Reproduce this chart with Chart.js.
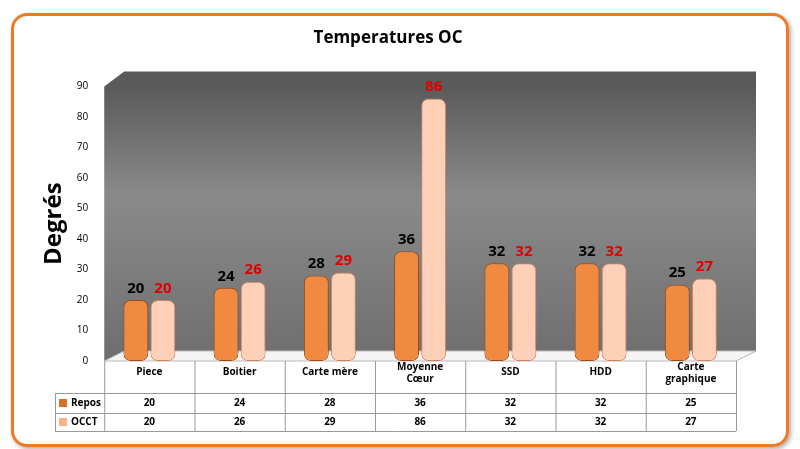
<!DOCTYPE html>
<html><head><meta charset="utf-8">
<script src="https://cdn.jsdelivr.net/npm/chart.js@4"></script>
<style>
html,body{margin:0;padding:0;background:#fff;width:800px;height:449px;overflow:hidden}
#frame{position:absolute;left:11px;top:13px;width:772px;height:428px;border:3px solid #f07820;border-radius:16px;box-shadow:2px 2px 4px #aaa}
#c{position:absolute;left:0;top:0}
</style></head><body>
<div id="frame"></div>
<canvas id="c" width="800" height="449"></canvas>
<script>
const categories=[["Piece"],["Boitier"],["Carte mère"],["Moyenne","Cœur"],["SSD"],["HDD"],["Carte","graphique"]];
const repos=[20,24,28,36,32,32,25];
const occt=[20,26,29,86,32,32,27];
const yTicks=[0,10,20,30,40,50,60,70,80,90];
const F="'Open Sans', 'DejaVu Sans', sans-serif";

const bgPlugin={id:'bg',beforeDatasetsDraw(ch){
 const {ctx,chartArea:a}=ch;ctx.save();
 const g=ctx.createLinearGradient(0,a.top,0,a.bottom);
 g.addColorStop(0,'#5a5a5a');g.addColorStop(0.4,'#8a8a8a');g.addColorStop(1,'#6e6e6e');
 ctx.fillStyle=g;ctx.beginPath();ctx.moveTo(a.left,a.top);ctx.lineTo(a.left+20,a.top-15);ctx.lineTo(a.right+20,a.top-15);ctx.lineTo(a.right+20,a.bottom-10);ctx.lineTo(a.right,a.bottom);ctx.lineTo(a.left,a.bottom);ctx.closePath();ctx.fill();
 ctx.fillStyle='#f4f4f4';ctx.strokeStyle='#bbb';ctx.beginPath();ctx.moveTo(a.left,a.bottom);ctx.lineTo(a.right,a.bottom);ctx.lineTo(a.right+20,a.bottom-10);ctx.lineTo(a.left+20,a.bottom-10);ctx.closePath();ctx.fill();ctx.stroke();
 ctx.restore();
},afterDraw(ch){
 const {ctx,chartArea:a}=ch;ctx.save();
 const w=(a.right-a.left)/categories.length;
 ctx.textAlign='center';ctx.textBaseline='bottom';ctx.font='bold 15px '+F;
 ch.data.datasets.forEach((ds,i)=>{const m=ch.getDatasetMeta(i);m.data.forEach((b,j)=>{ctx.fillStyle=i?'#e00000':'#000';ctx.fillText(ds.data[j],b.x,b.y-4);});});
 const top=a.bottom, h1=top+32, r1=h1+20, r2=r1+18;
 ctx.strokeStyle='#999';ctx.lineWidth=1;ctx.beginPath();
 for(let i=0;i<=categories.length;i++){const xx=a.left+i*w;ctx.moveTo(xx+.5,top);ctx.lineTo(xx+.5,r2);}
 ctx.moveTo(a.left,h1+.5);ctx.lineTo(a.right,h1+.5);
 ctx.moveTo(55,r1+.5);ctx.lineTo(a.right,r1+.5);
 ctx.moveTo(55,r2+.5);ctx.lineTo(a.right,r2+.5);
 ctx.moveTo(55.5,h1);ctx.lineTo(55.5,r2);ctx.moveTo(a.left,h1+.5);ctx.lineTo(55,h1+.5);
 ctx.stroke();
 ctx.fillStyle='#000';ctx.font='bold 10px '+F;ctx.textBaseline='middle';
 categories.forEach((c,i)=>{const cx=a.left+(i+.5)*w;const n=c.length;c.forEach((t,k)=>ctx.fillText(t,cx,top+(n==1?11:6)+k*12));
  ctx.fillText(repos[i],cx,(h1+r1)/2);ctx.fillText(occt[i],cx,(r1+r2)/2);});
 ctx.textAlign='left';
 [['Repos','#d86f28',(h1+r1)/2],['OCCT','#f8b08c',(r1+r2)/2]].forEach(([t,c,y])=>{ctx.fillStyle=c;ctx.fillRect(59,y-4,8,8);ctx.fillStyle='#000';ctx.fillText(t,71,y);});
 ctx.restore();
}};

function cyl(c1,c2,c3){return (cx)=>{const el=cx.element;const ch=cx.chart;if(!el||!el.width)return c2;
 const x0=el.x-el.width/2,x1=el.x+el.width/2;const g=ch.ctx.createLinearGradient(x0,0,x1,0);
 g.addColorStop(0,c1);g.addColorStop(0.45,c2);g.addColorStop(1,c3);return g;};}
new Chart(document.getElementById('c'),{type:'bar',
 data:{labels:categories.map(c=>c.join(' ')),datasets:[
  {label:'Repos',data:repos,backgroundColor:cyl('#b85a18','#f08a40','#a04a10'),borderColor:'#a04a10',borderWidth:1,borderRadius:7,borderSkipped:false},
  {label:'OCCT',data:occt,backgroundColor:cyl('#f0a078','#ffd0b8','#e09070'),borderColor:'#d08060',borderWidth:1,borderRadius:7,borderSkipped:false}]},
 options:{responsive:false,animation:false,
  layout:{padding:{left:40,right:64,top:10,bottom:88}},
  datasets:{bar:{barPercentage:0.92,categoryPercentage:0.6}},
  plugins:{legend:{display:false},tooltip:{enabled:false},
   title:{display:true,text:'Temperatures OC',font:{family:F,size:17,weight:'bold'},color:'#000',padding:{top:18,bottom:38}}},
  scales:{
   x:{display:false,grid:{display:false}},
   y:{min:0,max:90,afterBuildTicks(ax){ax.ticks=yTicks.map(v=>({value:v}));},
    grid:{display:false},border:{display:false},
    ticks:{color:'#000',font:{family:F,size:10},padding:8},
    title:{display:true,text:'Degrés',color:'#000',font:{family:F,size:24,weight:'bold'},padding:0}}}},
 plugins:[bgPlugin]});
</script></body></html>
